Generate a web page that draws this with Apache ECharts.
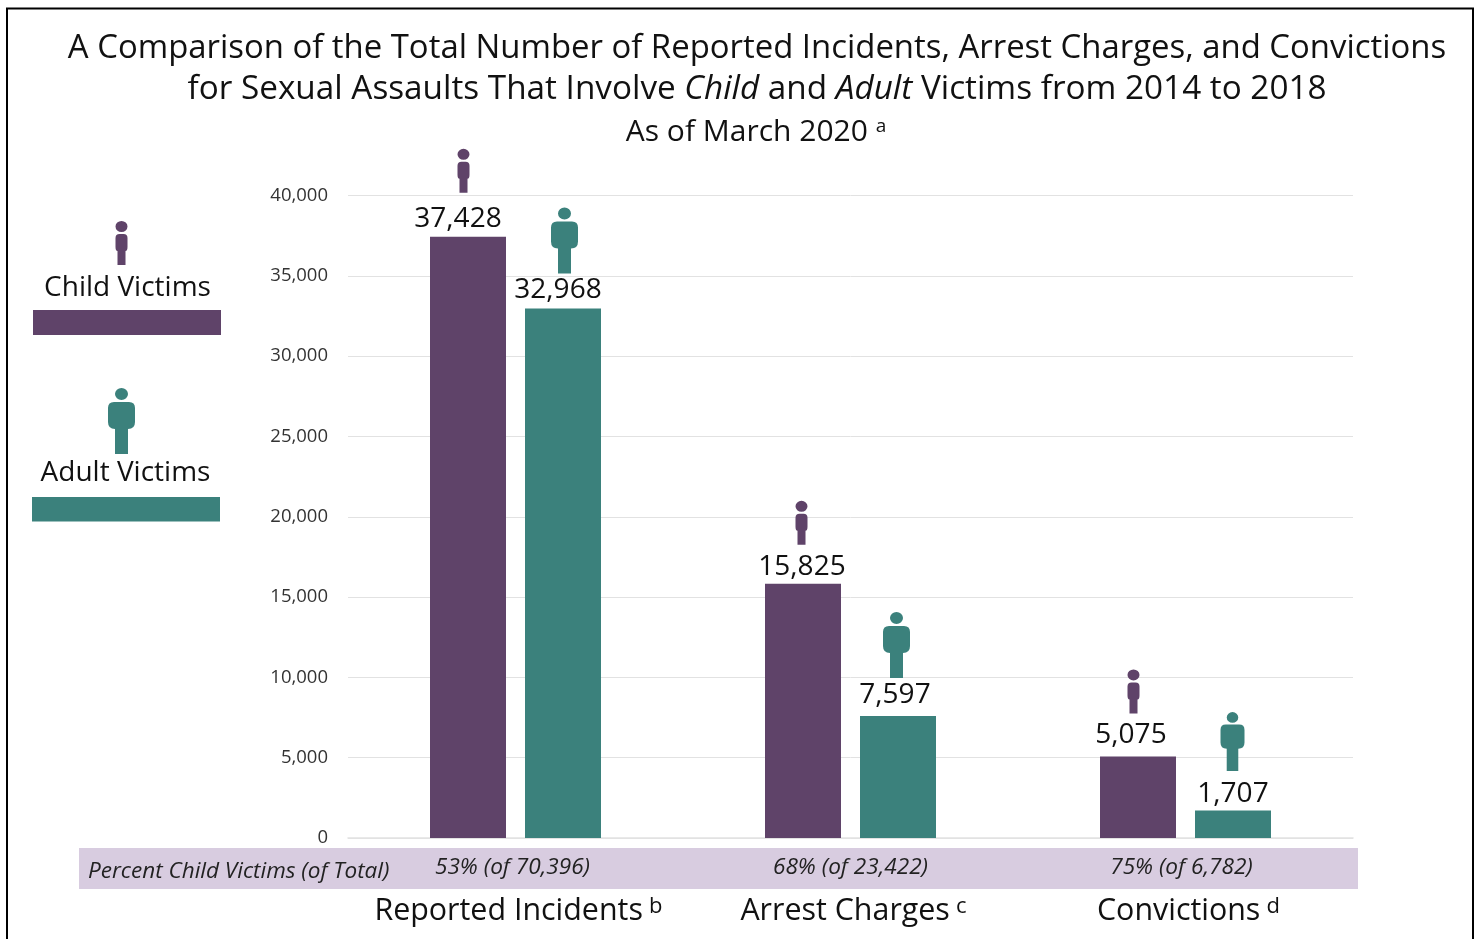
<!DOCTYPE html>
<html>
<head>
<meta charset="utf-8">
<style>
  html, body { margin: 0; padding: 0; background: #fff; }
  #main { width: 1479px; height: 939px; }
</style>
</head>
<body>
<div id="main"></div>
<script src="https://cdn.jsdelivr.net/npm/echarts@6/dist/echarts.min.js"></script>
<script>
var categories = ['Reported Incidents', 'Arrest Charges', 'Convictions'];
var footnotes = ['b', 'c', 'd'];
var percentLabels = ['53% (of 70,396)', '68% (of 23,422)', '75% (of 6,782)'];
var childVictims = [37428, 15825, 5075];
var adultVictims = [32968, 7597, 1707];

var PURPLE = '#5f4369';
var TEAL = '#3b817c';
var FONT = '"Open Sans", sans-serif';

// person shapes, head + body + leg
var childShape = 'M6 0A6 5.5 0 1 1 6 11A6 5.5 0 1 1 6 0ZM4 13H8Q12 13 12 17V26Q12 30 10 30V44H2V30Q0 30 0 26V17Q0 13 4 13Z';
var adultShape = 'M13.5 0A6.5 6 0 1 1 13.5 12A6.5 6 0 1 1 13.5 0ZM6 14H21Q27 14 27 20V34Q27 41 20 41V66H7V41Q0 41 0 34V20Q0 14 6 14Z';

// the graphic component only knows registered shapes
echarts.graphic.registerShape('childFigure', echarts.graphic.extendPath(childShape, {}));
echarts.graphic.registerShape('adultFigure', echarts.graphic.extendPath(adultShape, {}));

function barData(values, labelShift) {
  return values.map(function (v, i) {
    return { value: v, label: { offset: labelShift[i] } };
  });
}

function iconData(values, offsets, sizes) {
  return values.map(function (v, i) {
    return { value: [i, v], symbolOffset: offsets[i], symbolSize: sizes[i] };
  });
}

var chart = echarts.init(document.getElementById('main'));
chart.setOption({
  animation: false,
  backgroundColor: '#fff',
  title: [
    {
      text: 'A Comparison of the Total Number of Reported Incidents, Arrest Charges, and Convictions',
      left: 752, top: 27, textAlign: 'center',
      textStyle: { fontFamily: FONT, fontSize: 32.9, fontWeight: 'normal', color: '#111' }
    },
    {
      text: 'for Sexual Assaults That Involve {i|Child} and {i|Adult} Victims from 2014 to 2018',
      left: 752, top: 68, textAlign: 'center',
      textStyle: {
        fontFamily: FONT, fontSize: 33.3, fontWeight: 'normal', color: '#111',
        rich: { i: { fontFamily: FONT, fontSize: 33.3, fontStyle: 'italic', color: '#111' } }
      }
    },
    {
      text: 'As of March 2020 {s|a}',
      left: 751, top: 112, textAlign: 'center',
      textStyle: {
        fontFamily: FONT, fontSize: 30, fontWeight: 'normal', color: '#111',
        rich: { s: { fontFamily: FONT, fontSize: 19, color: '#111', verticalAlign: 'top', lineHeight: 30 } }
      }
    }
  ],
  grid: { left: 348, right: 126, top: 195.5, bottom: 101 },
  xAxis: [
    {
      type: 'category',
      data: categories,
      axisLine: { show: true, lineStyle: { color: '#e2e2e2', width: 1.5 } },
      axisTick: { show: false },
      axisLabel: {
        margin: 58,
        fontFamily: FONT,
        formatter: function (name, i) {
          return '{c|' + name + '}  {s|' + footnotes[i] + '}';
        },
        rich: {
          c: { fontFamily: FONT, fontSize: 30.4, color: '#111', padding: [0, 0, 0, 6] },
          s: { fontFamily: FONT, fontSize: 22, color: '#111', verticalAlign: 'top', lineHeight: 30 }
        }
      }
    },
    {
      type: 'category',
      position: 'bottom',
      data: percentLabels,
      axisLine: { show: false },
      axisTick: { show: false },
      axisLabel: {
        margin: 18,
        formatter: function (name, i) {
          return '{p' + i + '|' + name + '}';
        },
        rich: {
          p0: { fontFamily: FONT, fontSize: 22.6, fontStyle: 'italic', color: '#222', padding: [0, 6, 0, 0] },
          p1: { fontFamily: FONT, fontSize: 22.6, fontStyle: 'italic', color: '#222' },
          p2: { fontFamily: FONT, fontSize: 22.6, fontStyle: 'italic', color: '#222', padding: [0, 8, 0, 0] }
        }
      }
    }
  ],
  yAxis: {
    type: 'value',
    min: 0,
    max: 40000,
    interval: 5000,
    axisLine: { show: false },
    axisTick: { show: false },
    axisLabel: {
      margin: 20,
      fontFamily: FONT,
      fontSize: 18.5,
      color: '#333',
      formatter: function (v) { return v.toLocaleString('en-US'); }
    },
    splitLine: { lineStyle: { color: '#e2e2e2', width: 1 } }
  },
  series: [
    {
      name: 'Child Victims',
      type: 'bar',
      barWidth: 76,
      barGap: '25%',
      z: 3,
      itemStyle: { color: PURPLE },
      label: { show: true, position: 'top', fontFamily: FONT, fontSize: 28, color: '#111', formatter: function (p) { return p.value.toLocaleString('en-US'); } },
      data: barData(childVictims, [[-10, 1], [-1, 2], [-7, -2]])
    },
    {
      name: 'Adult Victims',
      type: 'bar',
      barWidth: 76,
      z: 3,
      itemStyle: { color: TEAL },
      label: { show: true, position: 'top', fontFamily: FONT, fontSize: 28, color: '#111', formatter: function (p) { return p.value.toLocaleString('en-US'); } },
      data: barData(adultVictims, [[-5, 1], [-3, -2], [0, 2]])
    },
    {
      name: 'Child icon',
      type: 'scatter',
      symbol: 'path://' + childShape,
      z: 4,
      silent: true,
      itemStyle: { color: PURPLE, opacity: 1 },
      data: iconData(childVictims, [[-52, -66], [-49, -61], [-52, -65]], [[12, 44], [12, 44], [12, 44]])
    },
    {
      name: 'Adult icon',
      type: 'scatter',
      symbol: 'path://' + adultShape,
      z: 4,
      silent: true,
      itemStyle: { color: TEAL, opacity: 1 },
      data: iconData(adultVictims, [[49, -68], [46, -71], [47, -69]], [[27, 66], [27, 66], [24, 59]])
    }
  ],
  graphic: [
    // frame of the slide
    { type: 'rect', z: 0, silent: true, shape: { x: 7, y: 8.5, width: 1466, height: 960 }, style: { fill: 'none', stroke: '#000', lineWidth: 2 } },
    // percent band
    { type: 'rect', z: 0, silent: true, shape: { x: 79, y: 848, width: 1279, height: 41 }, style: { fill: '#d8cce0' } },
    { type: 'text', z: 5, x: 88, y: 872, style: { text: 'Percent Child Victims (of Total)', fontFamily: FONT, fontSize: 22.5, fontStyle: 'italic', fill: '#222', textVerticalAlign: 'middle' } },
    // side legend
    { type: 'childFigure', z: 5, x: 115.5, y: 221, style: { fill: PURPLE } },
    { type: 'text', z: 5, x: 127.5, y: 288, style: { text: 'Child Victims', fontFamily: FONT, fontSize: 28, fill: '#111', textAlign: 'center', textVerticalAlign: 'middle' } },
    { type: 'rect', z: 5, shape: { x: 33, y: 310, width: 188, height: 25 }, style: { fill: PURPLE } },
    { type: 'adultFigure', z: 5, x: 108, y: 388, style: { fill: TEAL } },
    { type: 'text', z: 5, x: 125.5, y: 473.5, style: { text: 'Adult Victims', fontFamily: FONT, fontSize: 28, fill: '#111', textAlign: 'center', textVerticalAlign: 'middle' } },
    { type: 'rect', z: 5, shape: { x: 32, y: 497, width: 188, height: 24.5 }, style: { fill: TEAL } }
  ]
});
</script>
</body>
</html>
